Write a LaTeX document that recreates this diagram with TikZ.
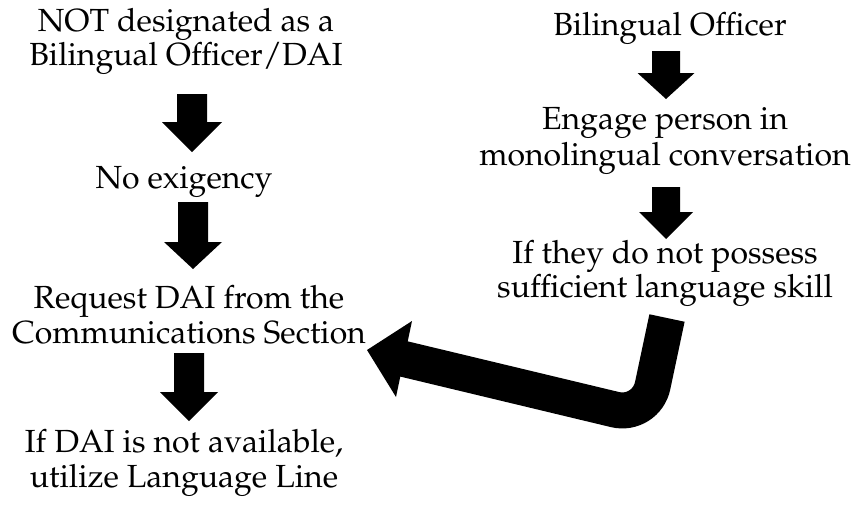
\documentclass[tikz,border=0pt]{standalone}
\usepackage[T1]{fontenc}
\usepackage{mathpazo}
\newcommand{\blkarrow}[6]{%
  \fill[blk] (#1-#5,#2) -- (#1+#5,#2) -- (#1+#5,#3) -- (#1+#6,#3) -- (#1,#4) -- (#1-#6,#3) -- (#1-#5,#3) -- cycle;}
\begin{document}
\begin{tikzpicture}[x=1pt,y=-1pt,
  txt/.style={inner sep=0pt, anchor=base, font=\fontsize{32}{35}\selectfont},
  blk/.style={fill=black},
  bentshaft/.style={draw=black, line width=36pt, rounded corners=32pt}]
\useasboundingbox (0,0) rectangle (861,504);
% left column
\node[txt] (l1) at (186,31) {\begin{tabular}[t]{@{}c@{}}NOT designated as a\\[-1pt]Bilingual Officer/DAI\end{tabular}};
\node[txt] (l2) at (184,188) {No exigency};
\node[txt] (l3) at (189,308) {\begin{tabular}[t]{@{}c@{}}Request DAI from the\\Communications Section\end{tabular}};
\node[txt] (l4) at (184,452) {\begin{tabular}[t]{@{}c@{}}If DAI is not available,\\utilize Language Line\end{tabular}};
% right column
\node[txt] (r1) at (670,35) {Bilingual Officer};
\node[txt] (r2) at (665,129) {\begin{tabular}[t]{@{}c@{}}Engage person in\\[1pt]monolingual conversation\end{tabular}};
\node[txt] (r3) at (665,263) {\begin{tabular}[t]{@{}c@{}}If they do not possess\\[-1pt]sufficient language skill\end{tabular}};
% block arrows
\blkarrow{192}{94}{122}{152}{15}{30}
\blkarrow{193}{202}{242}{269}{15}{29}
\blkarrow{189}{353}{392}{421}{15}{29}
\blkarrow{666}{51}{73}{99}{14}{28.5}
\blkarrow{666}{187}{212}{239}{14}{27}
% bent arrow from r3 to l3
\coordinate (bs) at (667,318);
\coordinate (bc) at (646,417);
\coordinate (be) at (400,358);
\draw[bentshaft] (bs) -- (bc) -- (be);
\fill[blk] (412,321) -- (367,350) -- (396,397) -- cycle;
\end{tikzpicture}
\end{document}
